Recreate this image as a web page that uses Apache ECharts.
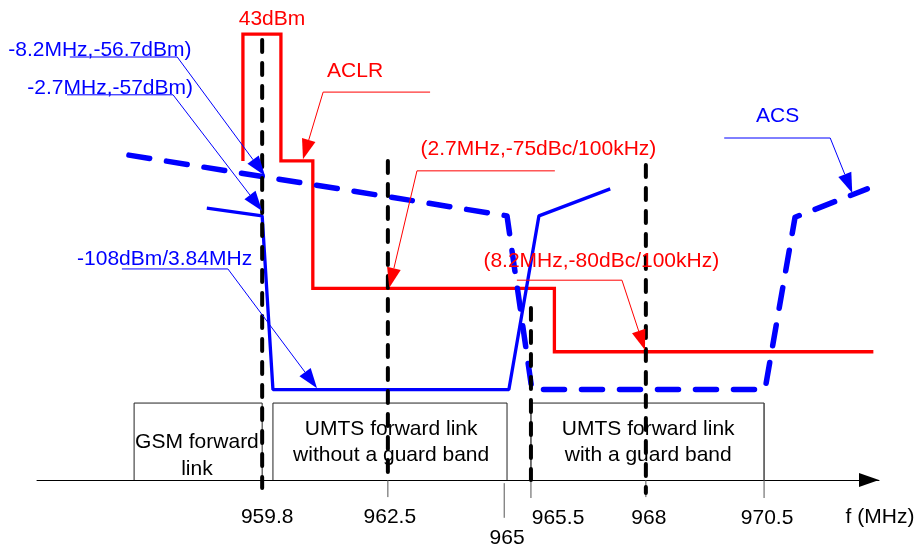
<!DOCTYPE html>
<html><head><meta charset="utf-8">
<script src="https://cdn.jsdelivr.net/npm/echarts@6/dist/echarts.min.js"></script>
<style>html,body{margin:0;padding:0;background:#fff}#c{width:917px;height:547px}</style>
</head><body><div id="c"></div>
<script>
// ---- data (frequency in MHz, level in relative units; 0 = frequency axis) ----
const aclrRed = [[959.39,70.9],[959.39,99.1],[960.20,99.1],[960.20,70.9],[960.88,70.9],[960.88,42.6],[966.03,42.6],[966.03,28.5],[972.83,28.5]];
const rxBlue = [[958.62,60.4],[959.80,58.7],[960.03,20.1],[965.06,20.1],[965.70,58.7],[967.22,64.7]];
const acsBlueDashed = [[956.96,72.2],[965.02,58.7],[965.55,20.1],[970.52,20.1],[971.16,58.4],[972.70,64.7]];

const guideFreqs = [959.80, 962.48, 965.53, 967.98];
const guideTop = [97.8, 70.9, 38.2, 70.0];
const guideBottom = [-1.8, 0, 0, -2.9];

const tickValues = [959.8, 962.5, 965, 965.5, 968, 970.5];
const tickLabels = ['959.8', '962.5', '965', '965.5', '968', '970.5'];
const tickMarkFreqs = [962.48, 967.98, 964.96, 965.53, 970.50];
const tickMarkTop = [0, 0, -0.7, 17.1, 17.1];
const tickMarkBottom = [-3.8, -3.8, -8.4, -4.0, -4.0];

const bandNames = ['GSM forward\nlink', 'UMTS forward link\nwithout a guard band', 'UMTS forward link\nwith a guard band'];
const bandStart = [957.07, 960.03, 965.53];
const bandEnd = [959.80, 965.02, 970.50];
const bandTop = 17.1;
const bandLabelAnchors = [[958.41, 5.5], [962.55, 8.3], [968.03, 8.4]];

const annotationTexts = ['43dBm', '-8.2MHz,-56.7dBm)', '-2.7MHz,-57dBm)', 'ACLR', '(2.7MHz,-75dBc/100kHz)', '(8.2MHz,-80dBc/100kHz)', 'ACS', '-108dBm/3.84MHz'];
const annotationAnchors = [[960.01,102.4],[956.34,95.6],[956.56,87.1],[961.78,90.9],[965.69,73.6],[967.03,48.7],[970.79,80.9],[957.72,49.1]];
const annotationSeries = ['aclr','acs','acs','aclr','aclr','aclr','acs','acs'];

const leaderPaths = [
  [955.70,94.0, 957.99,94.0, 959.86,67.6],
  [955.64,85.6, 957.90,85.6, 959.80,59.8],
  [963.38,86.2, 961.10,86.2, 960.67,71.3],
  [966.04,68.7, 963.10,68.7, 962.51,42.7],
  [965.23,44.4, 967.47,44.4, 967.96,28.9],
  [969.65,76.0, 971.91,76.0, 972.38,63.8],
  [956.81,46.9, 959.07,46.9, 960.97,20.4]
];
const leaderSeries = ['acs','acs','aclr','aclr','aclr','acs','acs'];

// ---- styles / layout ----
const RED = '#ff0000', BLUE = '#0000ff';
const colorOf = k => k === 'aclr' ? RED : BLUE;
const FONT = '"Liberation Sans", Arial, sans-serif';
const tickLabelOffsets = [[5,37.5],[1,37.5],[1,58],[28.5,38],[2,38],[3,38]];

const series = [];
// band boxes
bandStart.forEach((s, i) => {
  series.push({type:'line', symbol:'none', silent:true, animation:false, clip:false,
    data:[[s,0],[s,bandTop],[bandEnd[i],bandTop],[bandEnd[i],0]],
    lineStyle:{color:'#222', width:1}, z:1});
});
// tick marks
tickMarkFreqs.forEach((f, i) => {
  series.push({type:'line', symbol:'none', silent:true, animation:false, clip:false,
    data:[[f,tickMarkTop[i]],[f,tickMarkBottom[i]]],
    lineStyle:{color:'#555', width:1}, z:1});
});
series.push({name:'ACLR', type:'line', symbol:'none', animation:false, clip:false, data:aclrRed,
  lineStyle:{color:RED, width:3.3, join:'miter'}, z:3});
series.push({name:'Rx', type:'line', symbol:'none', animation:false, clip:false, data:rxBlue,
  lineStyle:{color:BLUE, width:3.3}, z:3});
series.push({name:'ACS', type:'line', symbol:'none', animation:false, clip:false, data:acsBlueDashed,
  lineStyle:{color:BLUE, width:5.5, type:[21,17], cap:'round', join:'round'}, z:4});
guideFreqs.forEach((f, i) => {
  series.push({type:'line', symbol:'none', silent:true, animation:false, clip:false,
    data:[[f,guideTop[i]],[f,guideBottom[i]]],
    lineStyle:{color:'#000', width:4, type:[12,11], cap:'round'}, z:5});
});
// leaders with arrowheads
series.push({type:'custom', animation:false, silent:true, z:6,
  data: leaderPaths,
  encode:{x:[0,2,4], y:[1,3,5]},
  renderItem: function (params, api) {
    const p0 = api.coord([api.value(0), api.value(1)]);
    const p1 = api.coord([api.value(2), api.value(3)]);
    const p2 = api.coord([api.value(4), api.value(5)]);
    const color = colorOf(leaderSeries[params.dataIndex]);
    const dx = p2[0]-p1[0], dy = p2[1]-p1[1];
    const len = Math.sqrt(dx*dx+dy*dy);
    const ux = dx/len, uy = dy/len;
    const L = 20, W = 7;
    const bx = p2[0]-ux*L, by = p2[1]-uy*L;
    return {type:'group', children:[
      {type:'polyline', shape:{points:[p0,p1,[bx,by]]}, style:{stroke:color, lineWidth:1, fill:null}},
      {type:'polygon', shape:{points:[p2,[bx-uy*W, by+ux*W],[bx+uy*W, by-ux*W]]}, style:{fill:color}}
    ]};
  }
});
// annotation texts
series.push({type:'custom', animation:false, silent:true, z:7,
  data: annotationAnchors,
  renderItem: function (params, api) {
    const p = api.coord([api.value(0), api.value(1)]);
    return {type:'text', x:p[0], y:p[1], style:{text:annotationTexts[params.dataIndex],
      fill:colorOf(annotationSeries[params.dataIndex]), font:'21px ' + FONT, align:'center', verticalAlign:'middle'}};
  }
});
// band labels
series.push({type:'custom', animation:false, silent:true, z:7,
  data: bandLabelAnchors,
  renderItem: function (params, api) {
    const p = api.coord([api.value(0), api.value(1)]);
    return {type:'text', x:p[0], y:p[1], style:{text:bandNames[params.dataIndex],
      fill:'#000', font:'21px ' + FONT, align:'center', verticalAlign:'middle', lineHeight: params.dataIndex === 0 ? 27 : 26}};
  }
});
// frequency tick labels, placed at the tick values on the axis
series.push({type:'custom', animation:false, silent:true, z:7,
  data: tickValues.map(v => [v, 0]),
  renderItem: function (params, api) {
    const p = api.coord([api.value(0), api.value(1)]);
    const o = tickLabelOffsets[params.dataIndex];
    return {type:'text', x:p[0] + o[0], y:p[1] + o[1], style:{text:tickLabels[params.dataIndex],
      fill:'#000', font:'21px ' + FONT, align:'center', verticalAlign:'middle'}};
  }
});

const chart = echarts.init(document.getElementById('c'), null, {renderer:'canvas'});
chart.setOption({
  backgroundColor:'#fff',
  animation:false,
  grid:{left:37, right:38, top:3, bottom:4, containLabel:false, outerBoundsMode:'none'},
  xAxis:{type:'value', min:955, max:972.95,
    name:'f (MHz)', nameLocation:'end', nameGap:1,
    nameTextStyle:{fontSize:21, fontFamily:FONT, color:'#000', align:'center', verticalAlign:'top', padding:[27,0,0,0]},
    axisLine:{onZero:true, lineStyle:{color:'#000', width:1}, symbol:['none','triangle'], symbolSize:[14,20], symbolOffset:[0,-10]},
    axisTick:{show:false}, splitLine:{show:false}, axisLabel:{show:false}
  },
  yAxis:{type:'value', min:-14, max:106, show:false},
  series: series
});
</script></body></html>
